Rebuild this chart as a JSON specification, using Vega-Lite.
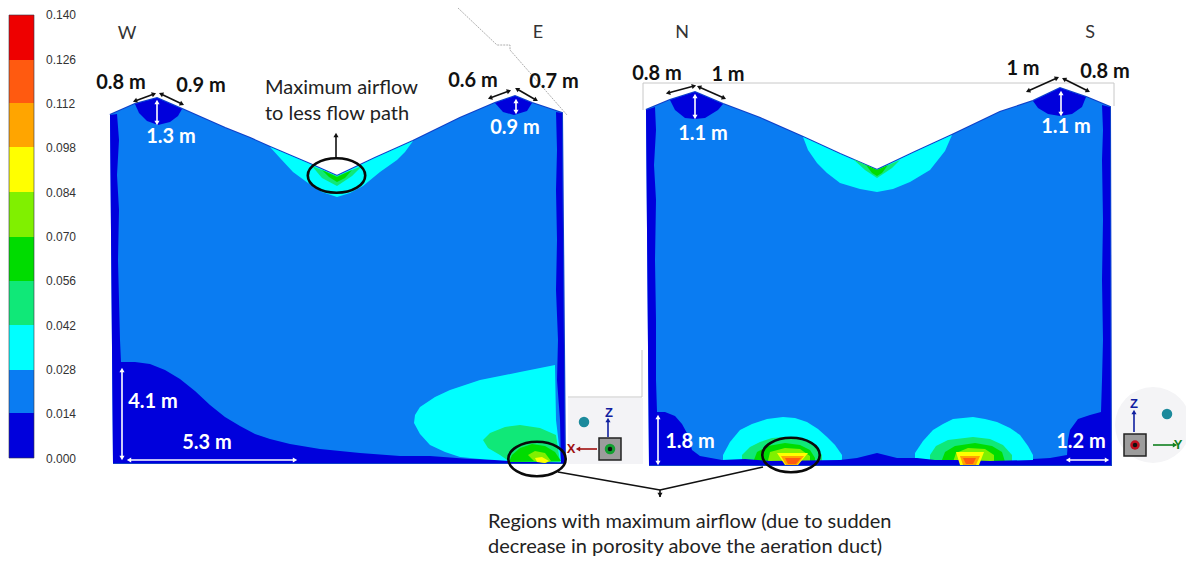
{"$schema":"https://vega.github.io/schema/vega-lite/v6.json","width":1186,"height":563,"padding":0,"autosize":{"type":"none"},"background":"white","config":{"view":{"stroke":null}},
"datasets":{
"bar":[{"level":"0.000","x":9,"x2":34,"y":458,"y2":413},{"level":"0.014","x":9,"x2":34,"y":413,"y2":370},{"level":"0.028","x":9,"x2":34,"y":370,"y2":325},{"level":"0.042","x":9,"x2":34,"y":325,"y2":281},{"level":"0.056","x":9,"x2":34,"y":281,"y2":237},{"level":"0.070","x":9,"x2":34,"y":237,"y2":192},{"level":"0.084","x":9,"x2":34,"y":192,"y2":147},{"level":"0.098","x":9,"x2":34,"y":147,"y2":103},{"level":"0.112","x":9,"x2":34,"y":103,"y2":60},{"level":"0.126","x":9,"x2":34,"y":60,"y2":15}],
"barlabels":[{"t":"0.000","x":46,"y":459},{"t":"0.014","x":46,"y":414},{"t":"0.028","x":46,"y":370},{"t":"0.042","x":46,"y":326},{"t":"0.056","x":46,"y":281},{"t":"0.070","x":46,"y":237},{"t":"0.084","x":46,"y":193},{"t":"0.098","x":46,"y":148},{"t":"0.112","x":46,"y":104},{"t":"0.126","x":46,"y":60},{"t":"0.140","x":46,"y":15}],
"thin":[{"id":"dash","i":0,"x":458,"y":8},{"id":"dash","i":1,"x":497,"y":45},{"id":"dash","i":2,"x":510,"y":45},{"id":"dash","i":3,"x":510,"y":50},{"id":"dash","i":4,"x":567,"y":115},{"id":"frame","i":0,"x":643,"y":110},{"id":"frame","i":1,"x":643,"y":83},{"id":"frame","i":2,"x":1114,"y":83},{"id":"frame","i":3,"x":1114,"y":106},{"id":"panel","i":0,"x":568,"y":397},{"id":"panel","i":1,"x":642,"y":397},{"id":"panel","i":2,"x":642,"y":350}],
"shapes":[
{"id":"a","level":"0.014","i":0,"x":110,"y":115},{"id":"a","level":"0.014","i":1,"x":135,"y":104},{"id":"a","level":"0.014","i":2,"x":157,"y":98},{"id":"a","level":"0.014","i":3,"x":182,"y":109},{"id":"a","level":"0.014","i":4,"x":225,"y":128},{"id":"a","level":"0.014","i":5,"x":250,"y":138},{"id":"a","level":"0.014","i":6,"x":270,"y":147},{"id":"a","level":"0.014","i":7,"x":310,"y":164},{"id":"a","level":"0.014","i":8,"x":337,"y":176},{"id":"a","level":"0.014","i":9,"x":375,"y":158},{"id":"a","level":"0.014","i":10,"x":413,"y":141},{"id":"a","level":"0.014","i":11,"x":460,"y":118},{"id":"a","level":"0.014","i":12,"x":495,"y":103},{"id":"a","level":"0.014","i":13,"x":515,"y":96},{"id":"a","level":"0.014","i":14,"x":532,"y":103},{"id":"a","level":"0.014","i":15,"x":562,"y":113},{"id":"a","level":"0.014","i":16,"x":565,"y":463},{"id":"a","level":"0.014","i":17,"x":113,"y":463},
{"id":"b","level":"0.014","i":0,"x":646,"y":110},{"id":"b","level":"0.014","i":1,"x":670,"y":100},{"id":"b","level":"0.014","i":2,"x":695,"y":92},{"id":"b","level":"0.014","i":3,"x":723,"y":104},{"id":"b","level":"0.014","i":4,"x":760,"y":118},{"id":"b","level":"0.014","i":5,"x":803,"y":137},{"id":"b","level":"0.014","i":6,"x":840,"y":154},{"id":"b","level":"0.014","i":7,"x":877,"y":170},{"id":"b","level":"0.014","i":8,"x":915,"y":152},{"id":"b","level":"0.014","i":9,"x":952,"y":135},{"id":"b","level":"0.014","i":10,"x":1000,"y":112},{"id":"b","level":"0.014","i":11,"x":1033,"y":101},{"id":"b","level":"0.014","i":12,"x":1060,"y":88},{"id":"b","level":"0.014","i":13,"x":1086,"y":97},{"id":"b","level":"0.014","i":14,"x":1110,"y":107},{"id":"b","level":"0.014","i":15,"x":1111,"y":465},{"id":"b","level":"0.014","i":16,"x":649,"y":465},
{"id":"c","level":"0.000","i":0,"x":110,"y":115},{"id":"c","level":"0.000","i":1,"x":117,"y":114},{"id":"c","level":"0.000","i":2,"x":119,"y":140},{"id":"c","level":"0.000","i":3,"x":117,"y":175},{"id":"c","level":"0.000","i":4,"x":119,"y":210},{"id":"c","level":"0.000","i":5,"x":118,"y":260},{"id":"c","level":"0.000","i":6,"x":119,"y":300},{"id":"c","level":"0.000","i":7,"x":120,"y":340},{"id":"c","level":"0.000","i":8,"x":121,"y":362},{"id":"c","level":"0.000","i":9,"x":135,"y":362},{"id":"c","level":"0.000","i":10,"x":150,"y":364},{"id":"c","level":"0.000","i":11,"x":165,"y":370},{"id":"c","level":"0.000","i":12,"x":180,"y":379},{"id":"c","level":"0.000","i":13,"x":195,"y":391},{"id":"c","level":"0.000","i":14,"x":210,"y":405},{"id":"c","level":"0.000","i":15,"x":225,"y":417},{"id":"c","level":"0.000","i":16,"x":240,"y":426},{"id":"c","level":"0.000","i":17,"x":255,"y":434},{"id":"c","level":"0.000","i":18,"x":270,"y":439},{"id":"c","level":"0.000","i":19,"x":290,"y":444},{"id":"c","level":"0.000","i":20,"x":320,"y":449},{"id":"c","level":"0.000","i":21,"x":360,"y":453},{"id":"c","level":"0.000","i":22,"x":400,"y":456},{"id":"c","level":"0.000","i":23,"x":430,"y":456},{"id":"c","level":"0.000","i":24,"x":470,"y":459},{"id":"c","level":"0.000","i":25,"x":510,"y":460},{"id":"c","level":"0.000","i":26,"x":540,"y":462},{"id":"c","level":"0.000","i":27,"x":565,"y":463},{"id":"c","level":"0.000","i":28,"x":113,"y":463},
{"id":"d","level":"0.028","i":0,"x":555,"y":365},{"id":"d","level":"0.028","i":1,"x":556,"y":420},{"id":"d","level":"0.028","i":2,"x":561,"y":462},{"id":"d","level":"0.028","i":3,"x":509,"y":461},{"id":"d","level":"0.028","i":4,"x":480,"y":459},{"id":"d","level":"0.028","i":5,"x":460,"y":457},{"id":"d","level":"0.028","i":6,"x":445,"y":452},{"id":"d","level":"0.028","i":7,"x":430,"y":445},{"id":"d","level":"0.028","i":8,"x":420,"y":434},{"id":"d","level":"0.028","i":9,"x":414,"y":423},{"id":"d","level":"0.028","i":10,"x":415,"y":415},{"id":"d","level":"0.028","i":11,"x":420,"y":407},{"id":"d","level":"0.028","i":12,"x":435,"y":397},{"id":"d","level":"0.028","i":13,"x":450,"y":390},{"id":"d","level":"0.028","i":14,"x":480,"y":380},{"id":"d","level":"0.028","i":15,"x":520,"y":372},
{"id":"e","level":"0.042","i":0,"x":483,"y":440},{"id":"e","level":"0.042","i":1,"x":490,"y":433},{"id":"e","level":"0.042","i":2,"x":505,"y":427},{"id":"e","level":"0.042","i":3,"x":520,"y":425},{"id":"e","level":"0.042","i":4,"x":540,"y":428},{"id":"e","level":"0.042","i":5,"x":556,"y":435},{"id":"e","level":"0.042","i":6,"x":560,"y":462},{"id":"e","level":"0.042","i":7,"x":510,"y":462},{"id":"e","level":"0.042","i":8,"x":500,"y":455},{"id":"e","level":"0.042","i":9,"x":488,"y":448},
{"id":"f","level":"0.056","i":0,"x":509,"y":462},{"id":"f","level":"0.056","i":1,"x":512,"y":455},{"id":"f","level":"0.056","i":2,"x":520,"y":448},{"id":"f","level":"0.056","i":3,"x":532,"y":444},{"id":"f","level":"0.056","i":4,"x":545,"y":446},{"id":"f","level":"0.056","i":5,"x":555,"y":452},{"id":"f","level":"0.056","i":6,"x":561,"y":461},
{"id":"g","level":"0.070","i":0,"x":528,"y":455},{"id":"g","level":"0.070","i":1,"x":535,"y":451},{"id":"g","level":"0.070","i":2,"x":545,"y":453},{"id":"g","level":"0.070","i":3,"x":551,"y":461},{"id":"g","level":"0.070","i":4,"x":545,"y":463},{"id":"g","level":"0.070","i":5,"x":534,"y":461},
{"id":"h","level":"0.084","i":0,"x":535,"y":458},{"id":"h","level":"0.084","i":1,"x":542,"y":457},{"id":"h","level":"0.084","i":2,"x":549,"y":461},{"id":"h","level":"0.084","i":3,"x":545,"y":463},{"id":"h","level":"0.084","i":4,"x":537,"y":462},
{"id":"j","level":"0.000","i":0,"x":556,"y":112},{"id":"j","level":"0.000","i":1,"x":562,"y":113},{"id":"j","level":"0.000","i":2,"x":565,"y":463},{"id":"j","level":"0.000","i":3,"x":561,"y":463},{"id":"j","level":"0.000","i":4,"x":560,"y":420},{"id":"j","level":"0.000","i":5,"x":557,"y":380},{"id":"j","level":"0.000","i":6,"x":558,"y":340},{"id":"j","level":"0.000","i":7,"x":556,"y":290},{"id":"j","level":"0.000","i":8,"x":557,"y":240},{"id":"j","level":"0.000","i":9,"x":556,"y":190},{"id":"j","level":"0.000","i":10,"x":557,"y":150},
{"id":"k","level":"0.000","i":0,"x":135,"y":104},{"id":"k","level":"0.000","i":1,"x":157,"y":98},{"id":"k","level":"0.000","i":2,"x":182,"y":109},{"id":"k","level":"0.000","i":3,"x":178,"y":116},{"id":"k","level":"0.000","i":4,"x":170,"y":122},{"id":"k","level":"0.000","i":5,"x":158,"y":125},{"id":"k","level":"0.000","i":6,"x":147,"y":121},{"id":"k","level":"0.000","i":7,"x":139,"y":113},
{"id":"l","level":"0.000","i":0,"x":495,"y":103},{"id":"l","level":"0.000","i":1,"x":515,"y":96},{"id":"l","level":"0.000","i":2,"x":532,"y":103},{"id":"l","level":"0.000","i":3,"x":527,"y":111},{"id":"l","level":"0.000","i":4,"x":514,"y":115},{"id":"l","level":"0.000","i":5,"x":503,"y":112},
{"id":"m","level":"0.028","i":0,"x":270,"y":147},{"id":"m","level":"0.028","i":1,"x":310,"y":164},{"id":"m","level":"0.028","i":2,"x":337,"y":176},{"id":"m","level":"0.028","i":3,"x":375,"y":158},{"id":"m","level":"0.028","i":4,"x":413,"y":141},{"id":"m","level":"0.028","i":5,"x":405,"y":152},{"id":"m","level":"0.028","i":6,"x":397,"y":160},{"id":"m","level":"0.028","i":7,"x":380,"y":172},{"id":"m","level":"0.028","i":8,"x":363,"y":186},{"id":"m","level":"0.028","i":9,"x":350,"y":193},{"id":"m","level":"0.028","i":10,"x":337,"y":197},{"id":"m","level":"0.028","i":11,"x":322,"y":192},{"id":"m","level":"0.028","i":12,"x":308,"y":183},{"id":"m","level":"0.028","i":13,"x":293,"y":172},{"id":"m","level":"0.028","i":14,"x":280,"y":158},
{"id":"n","level":"0.042","i":0,"x":312,"y":166},{"id":"n","level":"0.042","i":1,"x":337,"y":176},{"id":"n","level":"0.042","i":2,"x":362,"y":166},{"id":"n","level":"0.042","i":3,"x":352,"y":176},{"id":"n","level":"0.042","i":4,"x":337,"y":186},{"id":"n","level":"0.042","i":5,"x":322,"y":178},
{"id":"o","level":"0.056","i":0,"x":322,"y":170},{"id":"o","level":"0.056","i":1,"x":337,"y":177},{"id":"o","level":"0.056","i":2,"x":352,"y":170},{"id":"o","level":"0.056","i":3,"x":345,"y":178},{"id":"o","level":"0.056","i":4,"x":337,"y":182},{"id":"o","level":"0.056","i":5,"x":329,"y":177},
{"id":"p","level":"0.000","i":0,"x":646,"y":110},{"id":"p","level":"0.000","i":1,"x":655,"y":107},{"id":"p","level":"0.000","i":2,"x":656,"y":130},{"id":"p","level":"0.000","i":3,"x":654,"y":165},{"id":"p","level":"0.000","i":4,"x":656,"y":200},{"id":"p","level":"0.000","i":5,"x":655,"y":260},{"id":"p","level":"0.000","i":6,"x":656,"y":320},{"id":"p","level":"0.000","i":7,"x":656,"y":380},{"id":"p","level":"0.000","i":8,"x":657,"y":412},{"id":"p","level":"0.000","i":9,"x":665,"y":412},{"id":"p","level":"0.000","i":10,"x":675,"y":416},{"id":"p","level":"0.000","i":11,"x":682,"y":424},{"id":"p","level":"0.000","i":12,"x":688,"y":435},{"id":"p","level":"0.000","i":13,"x":692,"y":450},{"id":"p","level":"0.000","i":14,"x":700,"y":456},{"id":"p","level":"0.000","i":15,"x":722,"y":460},{"id":"p","level":"0.000","i":16,"x":722,"y":465},{"id":"p","level":"0.000","i":17,"x":649,"y":465},
{"id":"q","level":"0.000","i":0,"x":1102,"y":105},{"id":"q","level":"0.000","i":1,"x":1110,"y":107},{"id":"q","level":"0.000","i":2,"x":1111,"y":465},{"id":"q","level":"0.000","i":3,"x":1033,"y":465},{"id":"q","level":"0.000","i":4,"x":1033,"y":459},{"id":"q","level":"0.000","i":5,"x":1050,"y":458},{"id":"q","level":"0.000","i":6,"x":1067,"y":455},{"id":"q","level":"0.000","i":7,"x":1068,"y":440},{"id":"q","level":"0.000","i":8,"x":1070,"y":430},{"id":"q","level":"0.000","i":9,"x":1078,"y":419},{"id":"q","level":"0.000","i":10,"x":1090,"y":415},{"id":"q","level":"0.000","i":11,"x":1101,"y":412},{"id":"q","level":"0.000","i":12,"x":1102,"y":380},{"id":"q","level":"0.000","i":13,"x":1103,"y":340},{"id":"q","level":"0.000","i":14,"x":1102,"y":280},{"id":"q","level":"0.000","i":15,"x":1103,"y":220},{"id":"q","level":"0.000","i":16,"x":1102,"y":160},{"id":"q","level":"0.000","i":17,"x":1103,"y":130},
{"id":"r","level":"0.028","i":0,"x":723,"y":465},{"id":"r","level":"0.028","i":1,"x":723,"y":455},{"id":"r","level":"0.028","i":2,"x":730,"y":442},{"id":"r","level":"0.028","i":3,"x":740,"y":430},{"id":"r","level":"0.028","i":4,"x":752,"y":424},{"id":"r","level":"0.028","i":5,"x":767,"y":419},{"id":"r","level":"0.028","i":6,"x":783,"y":417},{"id":"r","level":"0.028","i":7,"x":795,"y":418},{"id":"r","level":"0.028","i":8,"x":807,"y":422},{"id":"r","level":"0.028","i":9,"x":818,"y":429},{"id":"r","level":"0.028","i":10,"x":827,"y":437},{"id":"r","level":"0.028","i":11,"x":835,"y":445},{"id":"r","level":"0.028","i":12,"x":842,"y":455},{"id":"r","level":"0.028","i":13,"x":842,"y":465},
{"id":"s","level":"0.042","i":0,"x":742,"y":465},{"id":"s","level":"0.042","i":1,"x":742,"y":455},{"id":"s","level":"0.042","i":2,"x":750,"y":447},{"id":"s","level":"0.042","i":3,"x":760,"y":442},{"id":"s","level":"0.042","i":4,"x":772,"y":438},{"id":"s","level":"0.042","i":5,"x":785,"y":437},{"id":"s","level":"0.042","i":6,"x":798,"y":439},{"id":"s","level":"0.042","i":7,"x":810,"y":443},{"id":"s","level":"0.042","i":8,"x":817,"y":449},{"id":"s","level":"0.042","i":9,"x":822,"y":455},{"id":"s","level":"0.042","i":10,"x":822,"y":465},
{"id":"t","level":"0.056","i":0,"x":752,"y":465},{"id":"t","level":"0.056","i":1,"x":757,"y":452},{"id":"t","level":"0.056","i":2,"x":768,"y":446},{"id":"t","level":"0.056","i":3,"x":785,"y":443},{"id":"t","level":"0.056","i":4,"x":800,"y":445},{"id":"t","level":"0.056","i":5,"x":810,"y":450},{"id":"t","level":"0.056","i":6,"x":815,"y":458},{"id":"t","level":"0.056","i":7,"x":815,"y":465},
{"id":"u","level":"0.070","i":0,"x":767,"y":465},{"id":"u","level":"0.070","i":1,"x":770,"y":452},{"id":"u","level":"0.070","i":2,"x":785,"y":448},{"id":"u","level":"0.070","i":3,"x":800,"y":449},{"id":"u","level":"0.070","i":4,"x":810,"y":456},{"id":"u","level":"0.070","i":5,"x":810,"y":465},
{"id":"v","level":"0.028","i":0,"x":915,"y":465},{"id":"v","level":"0.028","i":1,"x":915,"y":453},{"id":"v","level":"0.028","i":2,"x":923,"y":441},{"id":"v","level":"0.028","i":3,"x":933,"y":430},{"id":"v","level":"0.028","i":4,"x":943,"y":424},{"id":"v","level":"0.028","i":5,"x":953,"y":419},{"id":"v","level":"0.028","i":6,"x":973,"y":417},{"id":"v","level":"0.028","i":7,"x":985,"y":419},{"id":"v","level":"0.028","i":8,"x":997,"y":422},{"id":"v","level":"0.028","i":9,"x":1010,"y":428},{"id":"v","level":"0.028","i":10,"x":1020,"y":435},{"id":"v","level":"0.028","i":11,"x":1028,"y":446},{"id":"v","level":"0.028","i":12,"x":1033,"y":455},{"id":"v","level":"0.028","i":13,"x":1033,"y":465},
{"id":"w","level":"0.042","i":0,"x":930,"y":465},{"id":"w","level":"0.042","i":1,"x":930,"y":455},{"id":"w","level":"0.042","i":2,"x":936,"y":446},{"id":"w","level":"0.042","i":3,"x":948,"y":440},{"id":"w","level":"0.042","i":4,"x":973,"y":437},{"id":"w","level":"0.042","i":5,"x":990,"y":439},{"id":"w","level":"0.042","i":6,"x":1003,"y":445},{"id":"w","level":"0.042","i":7,"x":1012,"y":455},{"id":"w","level":"0.042","i":8,"x":1012,"y":465},
{"id":"x","level":"0.056","i":0,"x":940,"y":465},{"id":"x","level":"0.056","i":1,"x":945,"y":452},{"id":"x","level":"0.056","i":2,"x":955,"y":446},{"id":"x","level":"0.056","i":3,"x":975,"y":443},{"id":"x","level":"0.056","i":4,"x":992,"y":446},{"id":"x","level":"0.056","i":5,"x":1002,"y":452},{"id":"x","level":"0.056","i":6,"x":1006,"y":465},
{"id":"y","level":"0.070","i":0,"x":952,"y":465},{"id":"y","level":"0.070","i":1,"x":956,"y":453},{"id":"y","level":"0.070","i":2,"x":968,"y":448},{"id":"y","level":"0.070","i":3,"x":985,"y":449},{"id":"y","level":"0.070","i":4,"x":994,"y":455},{"id":"y","level":"0.070","i":5,"x":994,"y":465},
{"id":"z","level":"0.000","i":0,"x":649,"y":465},{"id":"z","level":"0.000","i":1,"x":649,"y":460},{"id":"z","level":"0.000","i":2,"x":722,"y":460},{"id":"z","level":"0.000","i":3,"x":745,"y":459},{"id":"z","level":"0.000","i":4,"x":770,"y":461},{"id":"z","level":"0.000","i":5,"x":840,"y":460},{"id":"z","level":"0.000","i":6,"x":857,"y":458},{"id":"z","level":"0.000","i":7,"x":877,"y":453},{"id":"z","level":"0.000","i":8,"x":897,"y":458},{"id":"z","level":"0.000","i":9,"x":917,"y":458},{"id":"z","level":"0.000","i":10,"x":935,"y":460},{"id":"z","level":"0.000","i":11,"x":960,"y":460},{"id":"z","level":"0.000","i":12,"x":990,"y":461},{"id":"z","level":"0.000","i":13,"x":1033,"y":460},{"id":"z","level":"0.000","i":14,"x":1111,"y":460},{"id":"z","level":"0.000","i":15,"x":1111,"y":465},
{"id":"aa","level":"0.084","i":0,"x":777,"y":453},{"id":"aa","level":"0.084","i":1,"x":808,"y":453},{"id":"aa","level":"0.084","i":2,"x":798,"y":465},{"id":"aa","level":"0.084","i":3,"x":785,"y":465},
{"id":"ab","level":"0.098","i":0,"x":781,"y":456},{"id":"ab","level":"0.098","i":1,"x":804,"y":456},{"id":"ab","level":"0.098","i":2,"x":797,"y":465},{"id":"ab","level":"0.098","i":3,"x":786,"y":465},
{"id":"ac","level":"0.112","i":0,"x":785,"y":458},{"id":"ac","level":"0.112","i":1,"x":801,"y":458},{"id":"ac","level":"0.112","i":2,"x":796,"y":464},{"id":"ac","level":"0.112","i":3,"x":788,"y":464},
{"id":"ad","level":"0.084","i":0,"x":956,"y":452},{"id":"ad","level":"0.084","i":1,"x":984,"y":452},{"id":"ad","level":"0.084","i":2,"x":979,"y":465},{"id":"ad","level":"0.084","i":3,"x":960,"y":465},
{"id":"ae","level":"0.098","i":0,"x":960,"y":456},{"id":"ae","level":"0.098","i":1,"x":980,"y":456},{"id":"ae","level":"0.098","i":2,"x":976,"y":465},{"id":"ae","level":"0.098","i":3,"x":963,"y":465},
{"id":"af","level":"0.112","i":0,"x":963,"y":458},{"id":"af","level":"0.112","i":1,"x":976,"y":458},{"id":"af","level":"0.112","i":2,"x":973,"y":464},{"id":"af","level":"0.112","i":3,"x":966,"y":464},
{"id":"ag","level":"0.000","i":0,"x":670,"y":100},{"id":"ag","level":"0.000","i":1,"x":695,"y":92},{"id":"ag","level":"0.000","i":2,"x":723,"y":104},{"id":"ag","level":"0.000","i":3,"x":718,"y":110},{"id":"ag","level":"0.000","i":4,"x":705,"y":118},{"id":"ag","level":"0.000","i":5,"x":695,"y":119},{"id":"ag","level":"0.000","i":6,"x":685,"y":118},{"id":"ag","level":"0.000","i":7,"x":675,"y":110},
{"id":"ah","level":"0.000","i":0,"x":1033,"y":101},{"id":"ah","level":"0.000","i":1,"x":1060,"y":88},{"id":"ah","level":"0.000","i":2,"x":1086,"y":97},{"id":"ah","level":"0.000","i":3,"x":1082,"y":107},{"id":"ah","level":"0.000","i":4,"x":1072,"y":114},{"id":"ah","level":"0.000","i":5,"x":1060,"y":116},{"id":"ah","level":"0.000","i":6,"x":1048,"y":114},{"id":"ah","level":"0.000","i":7,"x":1038,"y":108},
{"id":"ai","level":"0.028","i":0,"x":803,"y":137},{"id":"ai","level":"0.028","i":1,"x":840,"y":154},{"id":"ai","level":"0.028","i":2,"x":877,"y":170},{"id":"ai","level":"0.028","i":3,"x":915,"y":152},{"id":"ai","level":"0.028","i":4,"x":952,"y":135},{"id":"ai","level":"0.028","i":5,"x":945,"y":151},{"id":"ai","level":"0.028","i":6,"x":930,"y":170},{"id":"ai","level":"0.028","i":7,"x":910,"y":182},{"id":"ai","level":"0.028","i":8,"x":893,"y":189},{"id":"ai","level":"0.028","i":9,"x":877,"y":192},{"id":"ai","level":"0.028","i":10,"x":860,"y":189},{"id":"ai","level":"0.028","i":11,"x":840,"y":183},{"id":"ai","level":"0.028","i":12,"x":827,"y":173},{"id":"ai","level":"0.028","i":13,"x":817,"y":163},{"id":"ai","level":"0.028","i":14,"x":808,"y":150},
{"id":"aj","level":"0.042","i":0,"x":853,"y":159},{"id":"aj","level":"0.042","i":1,"x":877,"y":170},{"id":"aj","level":"0.042","i":2,"x":900,"y":160},{"id":"aj","level":"0.042","i":3,"x":892,"y":168},{"id":"aj","level":"0.042","i":4,"x":877,"y":178},{"id":"aj","level":"0.042","i":5,"x":865,"y":170},
{"id":"ak","level":"0.056","i":0,"x":866,"y":165},{"id":"ak","level":"0.056","i":1,"x":877,"y":170},{"id":"ak","level":"0.056","i":2,"x":888,"y":165},{"id":"ak","level":"0.056","i":3,"x":882,"y":173},{"id":"ak","level":"0.056","i":4,"x":877,"y":176},{"id":"ak","level":"0.056","i":5,"x":872,"y":173}
],
"segs":[{"c":"k","x":135,"y":101,"x2":154,"y2":94},{"c":"k","x":161,"y":94,"x2":182,"y2":104},{"c":"k","x":490,"y":98,"x2":509,"y2":91},{"c":"k","x":517,"y":89,"x2":536,"y2":100},{"c":"k","x":668,"y":93,"x2":694,"y2":86},{"c":"k","x":699,"y":87,"x2":724,"y2":98},{"c":"k","x":1028,"y":91,"x2":1057,"y2":78},{"c":"k","x":1064,"y":79,"x2":1088,"y2":91},{"c":"k","x":336,"y":158,"x2":336,"y2":135},{"c":"k","x":558,"y":472,"x2":660,"y2":490},{"c":"k","x":763,"y":467,"x2":660,"y2":490},{"c":"k","x":660,"y":490,"x2":660,"y2":497},{"c":"w","x":157,"y":102,"x2":157,"y2":123},{"c":"w","x":122,"y":370,"x2":122,"y2":458},{"c":"w","x":129,"y":460,"x2":295,"y2":460},{"c":"w","x":516,"y":101,"x2":516,"y2":112},{"c":"w","x":695,"y":96,"x2":695,"y2":117},{"c":"w","x":1061,"y":93,"x2":1061,"y2":114},{"c":"w","x":658,"y":417,"x2":658,"y2":463},{"c":"w","x":1068,"y":460,"x2":1107,"y2":460},{"c":"b","x":608,"y":420,"x2":608,"y2":437},{"c":"r","x":578,"y":449,"x2":597,"y2":449},{"c":"b","x":1134,"y":412,"x2":1134,"y2":432},{"c":"g","x":1153,"y":445,"x2":1175,"y2":445}],
"heads":[{"c":"k","x":135,"y":101,"a":-110},{"c":"k","x":154,"y":94,"a":70},{"c":"k","x":161,"y":94,"a":-65},{"c":"k","x":182,"y":104,"a":115},{"c":"k","x":490,"y":98,"a":-110},{"c":"k","x":509,"y":91,"a":70},{"c":"k","x":517,"y":89,"a":-60},{"c":"k","x":536,"y":100,"a":120},{"c":"k","x":668,"y":93,"a":-105},{"c":"k","x":694,"y":86,"a":75},{"c":"k","x":699,"y":87,"a":-66},{"c":"k","x":724,"y":98,"a":114},{"c":"k","x":1028,"y":91,"a":-114},{"c":"k","x":1057,"y":78,"a":66},{"c":"k","x":1064,"y":79,"a":-63},{"c":"k","x":1088,"y":91,"a":117},{"c":"k","x":336,"y":135,"a":0},{"c":"k","x":660,"y":495,"a":180},{"c":"w","x":157,"y":102,"a":0},{"c":"w","x":157,"y":123,"a":180},{"c":"w","x":122,"y":370,"a":0},{"c":"w","x":122,"y":458,"a":180},{"c":"w","x":129,"y":460,"a":-90},{"c":"w","x":295,"y":460,"a":90},{"c":"w","x":516,"y":101,"a":0},{"c":"w","x":516,"y":112,"a":180},{"c":"w","x":695,"y":96,"a":0},{"c":"w","x":695,"y":117,"a":180},{"c":"w","x":1061,"y":93,"a":0},{"c":"w","x":1061,"y":114,"a":180},{"c":"w","x":658,"y":417,"a":0},{"c":"w","x":658,"y":463,"a":180},{"c":"w","x":1068,"y":460,"a":-90},{"c":"w","x":1107,"y":460,"a":90},{"c":"r","x":578,"y":449,"a":-90},{"c":"b","x":608,"y":420,"a":0},{"c":"b","x":1134,"y":412,"a":0},{"c":"g","x":1175,"y":445,"a":90}]
},
"encoding":{"x":{"field":"x","type":"quantitative","scale":{"domain":[0,1186],"nice":false,"zero":false},"axis":null},"y":{"field":"y","type":"quantitative","scale":{"domain":[563,0],"nice":false,"zero":false},"axis":null}},
"layer":[
{"data":{"values":[{"x":568,"x2":643,"y":398,"y2":464}]},"mark":{"type":"rect","fill":"#f3f3f6"},"encoding":{"x2":{"field":"x2"},"y2":{"field":"y2"}}},
{"data":{"values":[{"x":1153,"y":425}]},"mark":{"type":"point","shape":"circle","filled":true,"fill":"#f4f4f6","size":5776,"opacity":1,"stroke":null},"encoding":{}},
{"data":{"name":"thin"},"transform":[{"filter":"datum.id!='dash'"}],"mark":{"type":"line","stroke":"#c8c8c8","strokeWidth":1},"encoding":{"detail":{"field":"id"},"order":{"field":"i","type":"quantitative"}}},
{"data":{"name":"thin"},"transform":[{"filter":"datum.id=='dash'"}],"mark":{"type":"line","stroke":"#999999","strokeWidth":0.8,"strokeDash":[2,1]},"encoding":{"detail":{"field":"id"},"order":{"field":"i","type":"quantitative"}}},
{"data":{"name":"shapes"},"transform":[{"filter":"datum.id=='a'||datum.id=='b'"}],"mark":{"type":"line","stroke":"#1040c8","strokeWidth":2},"encoding":{"detail":{"field":"id"},"order":{"field":"i","type":"quantitative"}}},
{"data":{"name":"shapes"},"mark":{"type":"line","stroke":null,"strokeWidth":0},"encoding":{"fill":{"field":"level","type":"nominal","legend":null,"scale":{"domain":["0.000","0.014","0.028","0.042","0.056","0.070","0.084","0.098","0.112","0.126"],"range":["#0000dc","#0a7cf2","#00ffff","#10e878","#00dc00","#80f000","#ffff00","#ffa500","#ff5a10","#ee0000"]}},"detail":{"field":"id"},"order":{"field":"i","type":"quantitative"}}},
{"data":{"name":"bar"},"mark":{"type":"rect"},"encoding":{"x2":{"field":"x2"},"y2":{"field":"y2"},"fill":{"field":"level","type":"nominal","legend":null}}},
{"data":{"values":[{"x":9,"x2":34,"y":15,"y2":458}]},"mark":{"type":"rect","fillOpacity":0,"stroke":"#334","strokeWidth":0.6},"encoding":{"x2":{"field":"x2"},"y2":{"field":"y2"}}},
{"data":{"name":"barlabels"},"mark":{"type":"text","align":"left","baseline":"middle","font":"Liberation Sans","fontSize":12,"fill":"#333333"},"encoding":{"text":{"field":"t"}}},
{"data":{"values":[{"x":584,"y":422},{"x":1167,"y":414}]},"mark":{"type":"point","shape":"circle","filled":true,"fill":"#1c8a9c","size":110,"opacity":1},"encoding":{}},
{"data":{"values":[{"x":610,"y":449},{"x":1135,"y":445}]},"mark":{"type":"point","shape":"square","filled":true,"fill":"#9c9c9c","stroke":"#222222","strokeWidth":1.5,"size":484,"opacity":1},"encoding":{}},
{"data":{"values":[{"x":610,"y":449}]},"mark":{"type":"point","shape":"circle","filled":true,"fill":"#12a030","size":110,"opacity":1},"encoding":{}},
{"data":{"values":[{"x":1135,"y":445}]},"mark":{"type":"point","shape":"circle","filled":true,"fill":"#c01020","size":90,"opacity":1},"encoding":{}},
{"data":{"values":[{"x":610,"y":449},{"x":1135,"y":445}]},"mark":{"type":"point","shape":"circle","filled":true,"fill":"#111111","size":20,"opacity":1},"encoding":{}},
{"data":{"name":"segs"},"mark":{"type":"rule","strokeWidth":1.6},"encoding":{"x2":{"field":"x2"},"y2":{"field":"y2"},"color":{"field":"c","type":"nominal","legend":null,"scale":{"domain":["k","w","b","r","g"],"range":["#111111","#ffffff","#1020a0","#a01010","#108020"]}}}},
{"data":{"name":"heads"},"mark":{"type":"point","shape":"triangle-up","filled":true,"size":26,"opacity":1},"encoding":{"angle":{"field":"a","type":"quantitative","scale":null},"color":{"field":"c","type":"nominal","legend":null}}},
{"data":{"values":[{"x":336.5,"y":175.5},{"x":537,"y":459},{"x":791,"y":455}]},"mark":{"type":"point","shape":"M-1,0 A1,0.6 0 1,1 1,0 A1,0.6 0 1,1 -1,0 Z","filled":false,"stroke":"#0a0a0a","strokeWidth":2.6,"size":3300,"opacity":1},"encoding":{}},
{"data":{"values":[{"t":"W","x":127,"y":34},{"t":"E","x":538,"y":33},{"t":"N","x":682,"y":33},{"t":"S","x":1090,"y":33}]},"mark":{"type":"text","font":"Lato","fontSize":18,"fill":"#333333","baseline":"middle"},"encoding":{"text":{"field":"t"}}},
{"data":{"values":[{"t":"0.8 m","x":121,"y":83},{"t":"0.9 m","x":201,"y":86},{"t":"0.6 m","x":473,"y":81},{"t":"0.7 m","x":554,"y":82},{"t":"0.8 m","x":657,"y":74},{"t":"1 m","x":728,"y":75},{"t":"1 m","x":1023,"y":69},{"t":"0.8 m","x":1105,"y":72}]},"mark":{"type":"text","font":"Lato","fontSize":20,"fontWeight":"bold","fill":"#111111","baseline":"middle"},"encoding":{"text":{"field":"t"}}},
{"data":{"values":[{"t":"1.3 m","x":171,"y":137},{"t":"0.9 m","x":515,"y":128},{"t":"1.1 m","x":703,"y":134},{"t":"1.1 m","x":1066,"y":127},{"t":"4.1 m","x":153,"y":402},{"t":"5.3 m","x":207,"y":443},{"t":"1.8 m","x":690,"y":442},{"t":"1.2 m","x":1081,"y":442}]},"mark":{"type":"text","font":"Lato","fontSize":20,"fontWeight":"bold","fill":"#ffffff","baseline":"middle"},"encoding":{"text":{"field":"t"}}},
{"data":{"values":[{"t":"Maximum airflow","x":265,"y":88},{"t":"to less flow path","x":265,"y":114},{"t":"Regions with maximum airflow (due to sudden","x":488,"y":522},{"t":"decrease in porosity above the aeration duct)","x":488,"y":547}]},"mark":{"type":"text","font":"Lato","fontSize":20,"fill":"#222222","align":"left","baseline":"middle"},"encoding":{"text":{"field":"t"}}},
{"data":{"values":[{"t":"Z","x":609,"y":413,"c":"b"},{"t":"X","x":571,"y":449,"c":"r"},{"t":"Z","x":1134,"y":404,"c":"b"},{"t":"Y","x":1178,"y":445,"c":"g"}]},"mark":{"type":"text","font":"Liberation Sans","fontSize":13,"fontWeight":"bold","baseline":"middle"},"encoding":{"text":{"field":"t"},"color":{"field":"c","type":"nominal","legend":null}}}
]}
